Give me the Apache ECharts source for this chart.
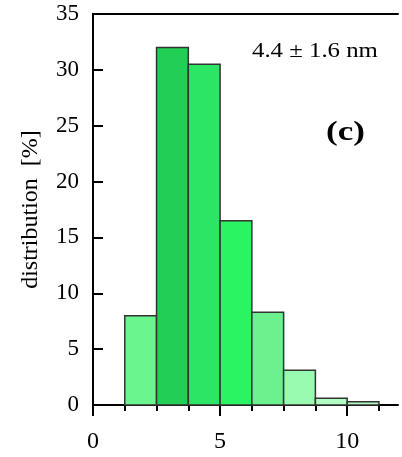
<!DOCTYPE html>
<html>
<head>
<meta charset="utf-8">
<script src="https://cdn.jsdelivr.net/npm/echarts@6/dist/echarts.min.js"></script>
<style>html,body{margin:0;padding:0;background:#fff}#c{width:402px;height:457px}</style>
</head>
<body>
<div id="c"></div>
<script>
// bin edges (nm) and distribution values (%)
const binStart = [1.25, 2.5, 3.75, 5.0, 6.25, 7.5, 8.75, 10.0];
const binEnd   = [2.5, 3.75, 5.0, 6.25, 7.5, 8.75, 10.0, 11.25];
const values   = [8.0, 32.0, 30.5, 16.5, 8.3, 3.1, 0.6, 0.3];
const barColors = ['#6af58f', '#22cf55', '#2de565', '#2af462', '#6bf28f', '#98fbb0', '#b0fcc2', '#b3fbc4'];
const xMajorTicks = [0, 5, 10];
const xMinorTicks = [1.25, 2.5, 3.75, 6.25, 7.5, 8.75, 11.25];
const yTickInterval = 5;
const annotation = '4.4 \u00b1 1.6 nm';
const panelLabel = '(c)';
const yName = 'distribution  [%]';

const FONT = 'Liberation Serif';
const data = binStart.map((s, i) => [s, binEnd[i], values[i], i]);

const chart = echarts.init(document.getElementById('c'));
chart.setOption({
  animation: false,
  backgroundColor: '#fff',
  grid: { left: 93, right: 4, top: 14, bottom: 52 },
  xAxis: [
    {
      type: 'value', min: 0, max: 12, position: 'bottom',
      axisLine: { lineStyle: { color: '#000', width: 2 } },
      axisTick: { show: true, inside: false, length: 11, customValues: xMajorTicks, lineStyle: { color: '#000', width: 2 } },
      axisLabel: { customValues: xMajorTicks, margin: 25, color: '#000', fontFamily: FONT, fontSize: 24 },
      splitLine: { show: false }
    },
    {
      type: 'value', min: 0, max: 12, position: 'bottom', gridIndex: 0,
      axisLine: { show: false },
      axisTick: { show: true, inside: false, length: 6, customValues: xMinorTicks, lineStyle: { color: '#000', width: 2 } },
      axisLabel: { show: false },
      splitLine: { show: false }
    },
    {
      type: 'value', min: 0, max: 12, position: 'top',
      axisLine: { lineStyle: { color: '#000', width: 2 } },
      axisTick: { show: false }, axisLabel: { show: false }, splitLine: { show: false }
    }
  ],
  yAxis: [
    {
      type: 'value', min: 0, max: 35, interval: yTickInterval, position: 'left',
      name: yName, nameLocation: 'middle', nameGap: 50, nameRotate: 90,
      nameTextStyle: { color: '#000', fontFamily: FONT, fontSize: 24 },
      axisLine: { lineStyle: { color: '#000', width: 2 } },
      axisTick: { inside: true, length: 10, lineStyle: { color: '#000', width: 2 } },
      axisLabel: { margin: 14, color: '#000', fontFamily: FONT, fontSize: 23 },
      splitLine: { show: false }
    },
    {
      type: 'value', min: 0, max: 35, position: 'right',
      axisLine: { show: true, lineStyle: { color: '#000', width: 2 } },
      axisTick: { show: false }, axisLabel: { show: false }, splitLine: { show: false }
    }
  ],
  series: [{
    type: 'custom',
    xAxisIndex: 0, yAxisIndex: 0,
    data: data,
    encode: { x: [0, 1], y: 2 },
    renderItem: function (params, api) {
      const p0 = api.coord([api.value(0), api.value(2)]);
      const p1 = api.coord([api.value(1), 0]);
      return {
        type: 'rect',
        shape: { x: p0[0], y: p0[1], width: p1[0] - p0[0], height: p1[1] - p0[1] },
        style: { fill: barColors[api.value(3)], stroke: '#333', lineWidth: 1.5 }
      };
    }
  }],
  graphic: [
    { type: 'text', left: 252, top: 42, scaleX: 1.24,
      style: { text: annotation, font: '20px "Liberation Serif"', fill: '#000' } },
    { type: 'text', left: 326, top: 120, scaleX: 1.3,
      style: { text: panelLabel, font: 'bold 27px "Liberation Serif"', fill: '#000' } }
  ]
});
</script>
</body>
</html>
